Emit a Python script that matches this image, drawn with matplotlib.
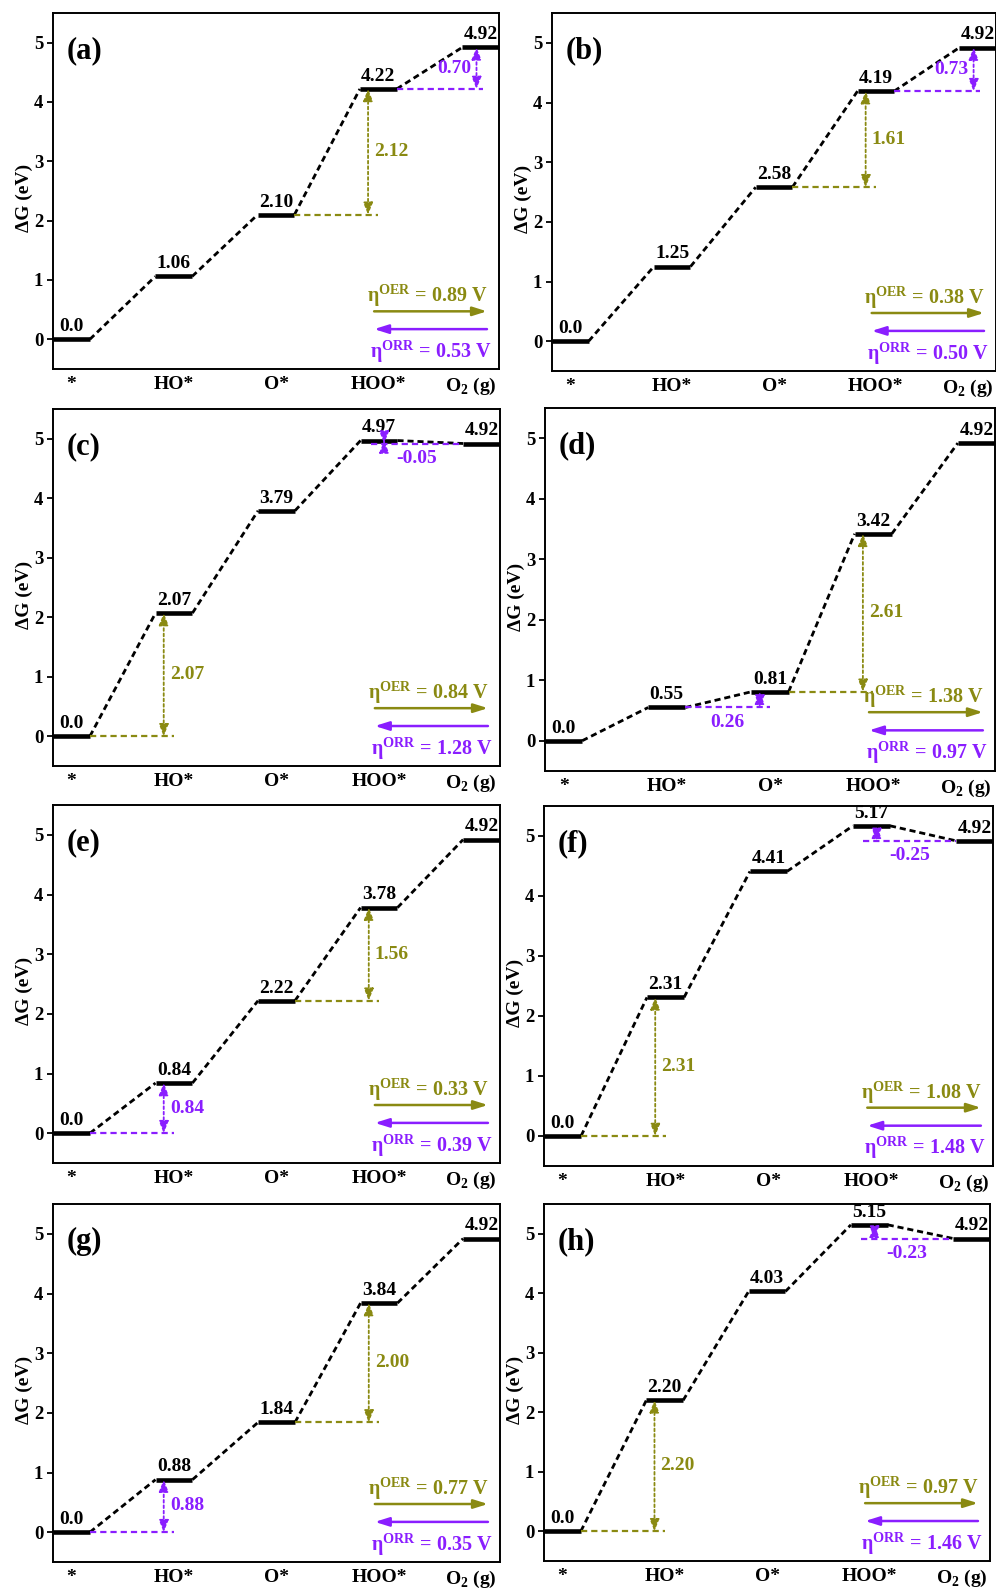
import matplotlib
matplotlib.use('Agg')
import matplotlib.pyplot as plt

plt.rcParams['font.family'] = ['Liberation Serif', 'DejaVu Serif']
plt.rcParams['mathtext.fontset'] = 'custom'
plt.rcParams['mathtext.rm'] = 'Liberation Serif:bold'
plt.rcParams['mathtext.bf'] = 'Liberation Serif:bold'

OLIVE = '#8a8a12'
PURPLE = '#8a1eff'
B = 'bold'

# ---- data ----
states = ['*', 'HO*', 'O*', 'HOO*', r'O$_\mathbf{2}$ (g)']
panel_names = ['(a)', '(b)', '(c)', '(d)', '(e)', '(f)', '(g)', '(h)']

G_a = [0.0, 1.06, 2.10, 4.22, 4.92]
G_b = [0.0, 1.25, 2.58, 4.19, 4.92]
G_c = [0.0, 2.07, 3.79, 4.97, 4.92]
G_d = [0.0, 0.55, 0.81, 3.42, 4.92]
G_e = [0.0, 0.84, 2.22, 3.78, 4.92]
G_f = [0.0, 2.31, 4.41, 5.17, 4.92]
G_g = [0.0, 0.88, 1.84, 3.84, 4.92]
G_h = [0.0, 2.20, 4.03, 5.15, 4.92]
energies = [G_a, G_b, G_c, G_d, G_e, G_f, G_g, G_h]

eta_oer = [0.89, 0.38, 0.84, 1.38, 0.33, 1.08, 0.77, 0.97]
eta_orr = [0.53, 0.50, 1.28, 0.97, 0.39, 1.48, 0.35, 1.46]

# index of the lower state of the limiting step
oer_step = [2, 2, 0, 2, 2, 0, 2, 0]
orr_step = [3, 3, 3, 1, 0, 3, 0, 3]
orr_place = ['left', 'left', 'below', 'below', 'right', 'below', 'right', 'below']

# axes boxes in pixels: left, top, right, bottom
boxes = [(53, 13, 499, 369), (552, 13, 996, 371),
         (53, 409, 500, 766), (545, 408, 995, 771),
         (53, 805, 500, 1163), (544, 806, 993, 1166),
         (53, 1204, 500, 1562), (544, 1204, 990, 1561)]

W, H = 996, 1589
HW = 0.18


def fmt(v):
    return '0.0' if v == 0 else '{:.2f}'.format(v)


def draw_step(ax, G, i, color, where):
    d = G[i + 1] - G[i]
    if d >= 0:
        lo, hi = G[i], G[i + 1]
        if where == 'left':
            xa = i + 1 - 0.04
            xend = xa + 0.06
        else:
            xa = i + 1 - 0.1
            xend = xa + 0.1
        xs = i + HW
    else:
        lo, hi = G[i + 1], G[i]
        xa = i + 0.05
        xs = i - 0.08
        xend = i + 1 - HW
    ax.plot([xs, xend], [lo, lo], color=color, lw=1.6, dashes=(2.8, 1.8))
    ax.annotate('', xy=(xa, hi), xytext=(xa, lo),
                arrowprops=dict(arrowstyle='<|-|>,head_length=0.55,head_width=0.22',
                                color=color, lw=1.3, linestyle=(0, (1.5, 1.5)),
                                mutation_scale=13, shrinkA=0, shrinkB=0))
    s = '{:.2f}'.format(d)
    if where == 'right':
        ax.text(xa + 0.06, (lo + hi) / 2, s, color=color, ha='left', va='center',
                fontsize=14, fontweight=B)
    elif where == 'left':
        ax.text(xa - 0.05, (lo + hi) / 2, s, color=color, ha='right', va='center',
                fontsize=14, fontweight=B)
    else:
        ax.text((xs + xend) / 2, lo - 0.25, s, color=color, ha='center', va='center',
                fontsize=14, fontweight=B)


fig = plt.figure(figsize=(W / 100, H / 100), dpi=100)

for k in range(8):
    l, t, r, b = boxes[k]
    ax = fig.add_axes([l / W, 1 - b / H, (r - l) / W, (b - t) / H])
    G = energies[k]

    for i, g in enumerate(G):
        ax.plot([i - HW, i + HW], [g, g], color='k', lw=3.3, solid_capstyle='butt')
        ax.annotate(fmt(g), xy=(i, g), xytext=(0, 3), textcoords='offset points',
                    ha='center', va='bottom', fontsize=14, fontweight=B,
                    annotation_clip=False)
    for i in range(len(G) - 1):
        ax.plot([i + HW, i + 1 - HW], [G[i], G[i + 1]], color='k', lw=2.0, dashes=(2.2, 1.4))

    draw_step(ax, G, oer_step[k], OLIVE, 'right')
    draw_step(ax, G, orr_step[k], PURPLE, orr_place[k])

    # direction arrows and overpotentials
    ax.annotate('', xy=(0.973, 0.162), xytext=(0.72, 0.162), xycoords='axes fraction',
                arrowprops=dict(arrowstyle='-|>,head_length=0.7,head_width=0.22',
                                color=OLIVE, lw=1.8, mutation_scale=12, shrinkA=0, shrinkB=0))
    ax.annotate('', xy=(0.72, 0.112), xytext=(0.973, 0.112), xycoords='axes fraction',
                arrowprops=dict(arrowstyle='-|>,head_length=0.7,head_width=0.22',
                                color=PURPLE, lw=1.8, mutation_scale=12, shrinkA=0, shrinkB=0))
    ax.text(0.975, 0.205, r'η$^{\mathbf{OER}}$ = ' + '{:.2f} V'.format(eta_oer[k]),
            transform=ax.transAxes, ha='right', va='center', color=OLIVE,
            fontsize=14.5, fontweight=B)
    ax.text(0.983, 0.05, r'η$^{\mathbf{ORR}}$ = ' + '{:.2f} V'.format(eta_orr[k]),
            transform=ax.transAxes, ha='right', va='center', color=PURPLE,
            fontsize=14.5, fontweight=B)

    ax.text(0.03, 0.895, panel_names[k], transform=ax.transAxes, ha='left', va='center',
            fontsize=22, fontweight=B)

    ax.set_xlim(-HW, 4 + HW)
    ax.set_ylim(-0.5, 5.5)
    ax.set_yticks(range(6))
    ax.set_xticks([0, 1, 2, 3, 3.9])
    ax.set_xticklabels(states, fontweight=B)
    for lab in ax.get_yticklabels():
        lab.set_fontweight(B)
    ax.tick_params(axis='y', direction='out', length=4, width=1.3, labelsize=13.5, pad=3)
    ax.tick_params(axis='x', length=0, labelsize=14, pad=5)
    for sp in ax.spines.values():
        sp.set_linewidth(1.4)
    ax.set_ylabel('ΔG (eV)', fontsize=14, fontweight=B)
    ax.yaxis.set_label_coords(-0.045, 0.48)

fig.savefig('out.png', dpi=100)
